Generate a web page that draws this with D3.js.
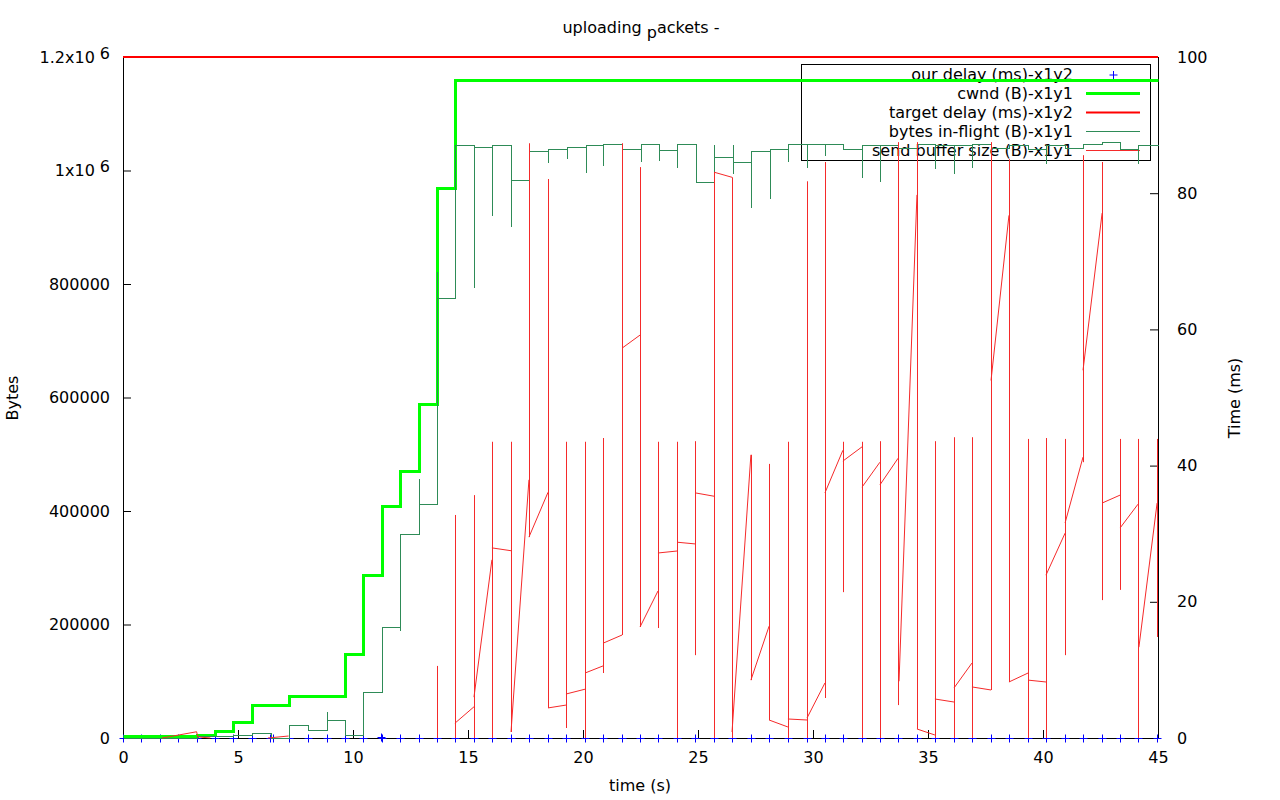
<!DOCTYPE html>
<html>
<head>
<meta charset="utf-8">
<script src="https://cdn.jsdelivr.net/npm/d3@7"></script>
<style>
  html, body { margin: 0; padding: 0; background: #fff; }
  svg text { font-family: "DejaVu Sans", sans-serif; font-size: 16px; fill: #000; }
</style>
</head>
<body>
<svg id="chart" width="1280" height="800"></svg>
<script>
// DATA //

// cwnd (B), drawn with steps: [time (s), bytes]
const cwndSteps = [
	[0, 3000], [3.2, 5300], [4.0, 12300], [4.8, 28000], [5.6, 58000], [7.2, 74000],
	[9.65, 148000], [10.45, 287000], [11.25, 409000], [12.05, 470000], [12.85, 588000],
	[13.65, 969000], [14.45, 1160000], [45, 1160000]
];

// bytes in-flight (B), steps; repeated times are short dips / spikes
const inflightSteps = [
	[0, 0], [3.2, 3500], [4.8, 5300], [5.6, 8800], [6.45, 0], [7.2, 22900], [8.05, 14000],
	[8.85, 47600], [8.85, 31700], [9.65, 5300], [10.45, 81000], [11.25, 195600],
	[12.05, 190000], [12.05, 359000], [12.85, 458000], [12.85, 412000],
	[13.65, 823000], [13.65, 775000], [14.43, 997000], [14.43, 1045000],
	[15.26, 795000], [15.26, 1041000], [16.04, 921000], [16.04, 1045000],
	[16.87, 902000], [16.87, 983000], [17.65, 1034000], [18.48, 1015000], [18.48, 1038000],
	[19.3, 1022000], [19.3, 1041000], [20.13, 997000], [20.13, 1045000],
	[20.87, 1010000], [20.87, 1047000], [21.7, 1038000], [22.52, 1017000], [22.52, 1047000],
	[23.3, 1019000], [23.3, 1036000], [24.09, 1006000], [24.09, 1047000], [24.9, 980000],
	[25.7, 1047000], [25.7, 1024000], [26.52, 1047000], [26.52, 995000], [26.52, 1015000],
	[27.3, 936000], [27.3, 1034000], [28.13, 951000], [28.13, 1038000],
	[28.91, 1017000], [28.91, 1047000], [29.74, 1006000], [29.74, 1047000],
	[30.52, 1027000], [30.52, 1047000], [31.3, 1038000], [32.13, 988000], [32.13, 1045000],
	[32.91, 981000], [32.91, 1045000], [33.7, 1040000], [34.52, 1047000],
	[35.3, 1004000], [35.3, 1045000], [36.13, 995000], [36.13, 1045000],
	[36.91, 1006000], [36.91, 1047000], [37.74, 1040000], [38.52, 1045000],
	[39.35, 1038000], [40.13, 1013000], [40.13, 1045000], [40.96, 1040000],
	[41.74, 1047000], [42.57, 1050000], [43.35, 1045000], [43.35, 1038000],
	[44.13, 1013000], [44.13, 1045000], [45, 1045000]
];

// send buffer size (B): vertical jumps [time, low, high]
const bufferJumps = [
	[13.65, 0, 127000], [14.43, 0, 393000], [15.26, 0, 428000], [16.04, 0, 522000],
	[16.87, 10600, 522000], [17.65, 354000, 1048000], [18.48, 53000, 985000],
	[19.26, 17600, 522000], [20.09, 0, 522000], [20.87, 114500, 528600],
	[21.7, 181500, 1048000], [22.48, 195600, 1006000], [23.26, 193800, 522000],
	[24.09, 0, 522000], [24.87, 146000, 523000], [25.7, 0, 997000], [26.48, 0, 988000],
	[27.3, 102000, 499000], [28.09, 31700, 483000], [28.91, 0, 522000],
	[29.74, 0, 981000], [30.52, 70500, 1015000], [31.3, 257000, 522000],
	[32.13, 0, 522000], [32.91, 0, 523000], [33.7, 58000, 1050000],
	[34.52, 15900, 1050000], [35.3, 0, 523000], [36.13, 0, 530000], [36.91, 0, 530000],
	[37.74, 84600, 1050000], [38.52, 98700, 1020000], [39.35, 0, 527000],
	[40.13, 0, 528600], [40.96, 146000, 527000], [41.74, 486000, 1027000],
	[42.57, 243000, 1015000], [43.35, 261000, 527000], [44.13, 0, 527000],
	[44.96, 178000, 527000]
];

// send buffer size (B): runs between jumps [t0, v0, t1, v1]
const bufferRuns = [
	[1.7, 0, 3.2, 11000], [3.2, 11000, 3.25, 2000], [3.25, 2000, 3.8, 0], [6.3, 0, 7.2, 3500],
	[14.43, 26000, 15.26, 55000], [15.26, 72000, 16.04, 314000], [16.04, 335000, 16.87, 330000],
	[16.87, 10600, 17.65, 455000], [17.65, 354000, 18.48, 433000], [18.48, 53000, 19.26, 58000],
	[19.26, 77500, 20.09, 86000], [20.09, 114500, 20.87, 127000], [20.87, 167000, 21.7, 181500],
	[21.7, 687000, 22.48, 710000], [22.48, 195600, 23.26, 259000], [23.26, 326000, 24.09, 329500],
	[24.09, 345000, 24.87, 342000], [24.87, 432000, 25.7, 426000], [25.7, 997000, 26.48, 988000],
	[26.48, 10600, 27.3, 499000], [27.3, 102000, 28.09, 197000], [28.09, 31700, 28.91, 19400],
	[28.91, 33500, 29.74, 31700], [29.74, 35200, 30.52, 97000], [30.52, 432000, 31.3, 507000],
	[31.3, 488000, 32.13, 513000], [32.13, 442000, 32.91, 486000], [32.91, 446000, 33.7, 493000],
	[33.74, 100000, 34.52, 957000], [34.52, 15900, 35.3, 5300], [35.3, 68700, 36.13, 63400],
	[36.13, 88100, 36.91, 132000], [36.91, 90000, 37.74, 84600], [37.74, 630000, 38.52, 921000],
	[38.52, 98700, 39.35, 114500], [39.35, 102000, 40.13, 98700], [40.13, 287000, 40.96, 361000],
	[40.96, 379000, 41.74, 495000], [41.74, 648000, 42.57, 925000], [42.57, 414000, 43.35, 428000],
	[43.35, 370000, 44.13, 412000], [44.17, 160000, 44.96, 414000]
];

// our delay (ms) sample times and values
const delayTimes = [
	0, 0.8, 1.6, 2.4, 3.2, 4.0, 4.8, 5.6, 6.4, 6.5, 7.2, 8.05, 8.85, 9.65, 10.45, 11.2, 11.25,
	12.05, 12.85, 13.65, 14.43, 15.26, 16.04, 16.87, 17.65, 18.48, 19.26, 20.09, 20.87, 21.7,
	22.48, 23.26, 24.09, 24.87, 25.7, 26.48, 27.3, 28.09, 28.91, 29.74, 30.52, 31.3, 32.13,
	32.91, 33.7, 34.52, 35.3, 36.13, 36.91, 37.74, 38.52, 39.35, 40.13, 40.96, 41.74, 42.57,
	43.35, 44.13, 44.96
];
const delayValues = [
	0, 0, 0, 0, 0, 0, 0, 0, 0, 0, 0, 0, 0, 0, 0, 0.2, 0, 0, 0, 0, 0, 0, 0, 0, 0, 0, 0, 0, 0, 0,
	0, 0, 0, 0, 0, 0, 0, 0, 0, 0, 0, 0, 0, 0, 0, 0, 0, 0, 0, 0, 0, 0, 0, 0, 0, 0, 0, 0, 0
];

// target delay (ms)
const targetDelay = [[0, 100], [45, 100]];

const xTicks = [0, 5, 10, 15, 20, 25, 30, 35, 40, 45];
const yTicks = [0, 200000, 400000, 600000, 800000, 1000000, 1200000];
const yTickLabels = ['0', '200000', '400000', '600000', '800000', '1x10^6', '1.2x10^6'];
const y2Ticks = [0, 20, 40, 60, 80, 100];

const legendItems = [
	{ label: 'our delay (ms)-x1y2', kind: 'point', color: '#0000ff' },
	{ label: 'cwnd (B)-x1y1', kind: 'line', color: '#00ff00', width: 3 },
	{ label: 'target delay (ms)-x1y2', kind: 'line', color: '#ff0000', width: 2 },
	{ label: 'bytes in-flight (B)-x1y1', kind: 'line', color: '#2e8b57', width: 1 },
	{ label: 'send buffer size (B)-x1y1', kind: 'line', color: '#f52a2a', width: 1 }
];

// LAYOUT //

const margin = { left: 123, right: 1158, top: 57, bottom: 738 };

const svg = d3.select('#chart');

const x = d3.scaleLinear().domain([0, 45]).range([margin.left, margin.right]);
const y = d3.scaleLinear().domain([0, 1200000]).range([margin.bottom, margin.top]);
const y2 = d3.scaleLinear().domain([0, 100]).range([margin.bottom, margin.top]);

// Title, with the enhanced-text subscript.
const title = svg.append('text')
	.attr('x', 641)
	.attr('y', 33)
	.attr('text-anchor', 'middle');
title.append('tspan').text('uploading ');
title.append('tspan').attr('dy', 5).text('p');
title.append('tspan').attr('dy', -5).text('ackets -');

// AXES //

const xAxis = svg.append('g')
	.attr('transform', 'translate(0,' + margin.bottom + ')')
	.call(d3.axisBottom(x).tickValues(xTicks).tickSize(-8).tickPadding(14));

const yAxis = svg.append('g')
	.attr('transform', 'translate(' + margin.left + ',0)')
	.call(d3.axisLeft(y).tickValues(yTicks).tickSize(-8).tickPadding(13)
		.tickFormat((d, i) => yTickLabels[i]));

const y2Axis = svg.append('g')
	.attr('transform', 'translate(' + margin.right + ',0)')
	.call(d3.axisRight(y2).tickValues(y2Ticks).tickSize(-8).tickPadding(19));

[xAxis, yAxis, y2Axis].forEach(g => {
	g.select('.domain').remove();
	g.selectAll('line').attr('stroke', '#000');
	g.selectAll('text')
		.attr('font-family', 'DejaVu Sans, sans-serif')
		.attr('font-size', 16)
		.attr('fill', '#000');
});

// Turn "1x10^6" labels into base + raised exponent.
yAxis.selectAll('text').each(function () {
	const t = d3.select(this);
	const txt = t.text();
	if (txt.indexOf('^') < 0) {
		return;
	}
	const parts = txt.split('^');
	t.text(null);
	t.append('tspan').text(parts[0]);
	t.append('tspan').attr('dx', 5).attr('dy', -4).text(parts[1]);
});

// Border
svg.append('rect')
	.attr('x', margin.left + 0.5)
	.attr('y', margin.top + 0.5)
	.attr('width', margin.right - margin.left)
	.attr('height', margin.bottom - margin.top)
	.attr('fill', 'none')
	.attr('stroke', '#000');

// Axis titles
svg.append('text')
	.attr('transform', 'translate(18,398) rotate(-90)')
	.attr('text-anchor', 'middle')
	.text('Bytes');
svg.append('text')
	.attr('transform', 'translate(1240,398) rotate(-90)')
	.attr('text-anchor', 'middle')
	.text('Time (ms)');
svg.append('text')
	.attr('x', 640)
	.attr('y', 791)
	.attr('text-anchor', 'middle')
	.text('time (s)');

// LEGEND //

const legend = svg.append('g');
legend.append('rect')
	.attr('x', 801.5).attr('y', 64.5)
	.attr('width', 349).attr('height', 96)
	.attr('fill', 'none').attr('stroke', '#000');

const rows = legend.selectAll('g.row')
	.data(legendItems)
	.enter().append('g')
	.attr('class', 'row')
	.attr('transform', (d, i) => 'translate(0,' + (74.5 + i * 19) + ')');

rows.append('text')
	.attr('x', 1073)
	.attr('dy', '0.35em')
	.attr('text-anchor', 'end')
	.text(d => d.label);

rows.filter(d => d.kind === 'line').append('line')
	.attr('x1', 1086).attr('x2', 1140)
	.attr('stroke', d => d.color)
	.attr('stroke-width', d => d.width);

rows.filter(d => d.kind === 'point').append('path')
	.attr('d', 'M1109.5,0.5h8M1113.5,-3.5v8')
	.attr('stroke', d => d.color)
	.attr('fill', 'none');

// SERIES //

const plot = svg.append('g');

// our delay: '+' points
plot.selectAll('path.delay')
	.data(delayTimes.map((t, i) => [t, delayValues[i]]))
	.enter().append('path')
	.attr('class', 'delay')
	.attr('d', d => {
		const px = Math.round(x(d[0])) + 0.5;
		const py = Math.round(y2(d[1])) + 0.5;
		return 'M' + (px - 4) + ',' + py + 'h8M' + px + ',' + (py - 4) + 'v8';
	})
	.attr('stroke', '#0000ff')
	.attr('fill', 'none');

const stepLine = d3.line()
	.x(d => Math.round(x(d[0])) + 0.5)
	.y(d => Math.round(y(d[1])) + 0.5)
	.curve(d3.curveStepAfter);

// cwnd
plot.append('path')
	.datum(cwndSteps)
	.attr('d', stepLine)
	.attr('fill', 'none')
	.attr('stroke', '#00ff00')
	.attr('stroke-width', 3);

// target delay
plot.append('path')
	.datum(targetDelay)
	.attr('d', d3.line().x(d => x(d[0])).y(d => y2(d[1])))
	.attr('fill', 'none')
	.attr('stroke', '#ff0000')
	.attr('stroke-width', 2);

// bytes in-flight
plot.append('path')
	.datum(inflightSteps)
	.attr('d', stepLine)
	.attr('fill', 'none')
	.attr('stroke', '#2e8b57')
	.attr('stroke-width', 1)
	.attr('shape-rendering', 'crispEdges');

// send buffer size
const buf = plot.append('g')
	.attr('stroke', '#f52a2a')
	.attr('stroke-width', 1)
	.attr('fill', 'none');

buf.selectAll('line.jump')
	.data(bufferJumps)
	.enter().append('line')
	.attr('class', 'jump')
	.attr('x1', d => Math.round(x(d[0])) + 0.5)
	.attr('x2', d => Math.round(x(d[0])) + 0.5)
	.attr('y1', d => y(d[1]))
	.attr('y2', d => y(d[2]));

buf.selectAll('line.run')
	.data(bufferRuns)
	.enter().append('line')
	.attr('class', 'run')
	.attr('x1', d => x(d[0]))
	.attr('y1', d => y(d[1]))
	.attr('x2', d => x(d[2]))
	.attr('y2', d => y(d[3]));
</script>
</body>
</html>
